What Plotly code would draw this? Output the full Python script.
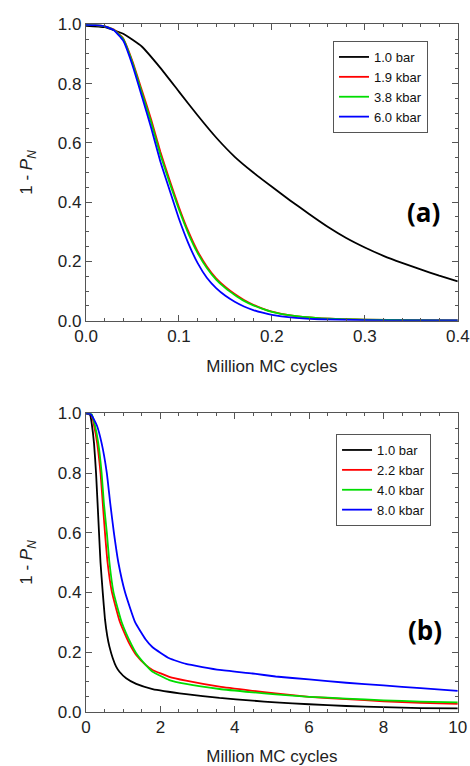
import plotly.graph_objects as go

# ---------------- Panel (a) ----------------
a_names = ["1.0 bar", "1.9 kbar", "3.8 kbar", "6.0 kbar"]
a_x_black = [0.0, 0.02, 0.04, 0.06, 0.08, 0.10, 0.12, 0.14, 0.16, 0.18, 0.20, 0.22, 0.24, 0.26, 0.28, 0.30, 0.32, 0.34, 0.36, 0.38, 0.40]
a_y_black = [0.995, 0.99, 0.968, 0.925, 0.853, 0.773, 0.693, 0.618, 0.553, 0.50, 0.452, 0.405, 0.36, 0.317, 0.279, 0.247, 0.219, 0.195, 0.173, 0.152, 0.133]
a_x = [0.0, 0.01, 0.02, 0.03, 0.04, 0.05, 0.06, 0.07, 0.08, 0.09, 0.10, 0.11, 0.12, 0.13, 0.14, 0.15,
       0.16, 0.17, 0.18, 0.19, 0.20, 0.22, 0.25, 0.30, 0.35, 0.40]
a_y_red = [0.998, 0.997, 0.993, 0.982, 0.952, 0.875, 0.778, 0.68, 0.57, 0.474, 0.383, 0.302, 0.235, 0.183, 0.143, 0.114,
           0.09, 0.07, 0.054, 0.041, 0.031, 0.018, 0.009, 0.004, 0.002, 0.001]
a_y_green = [0.998, 0.997, 0.993, 0.981, 0.95, 0.87, 0.77, 0.67, 0.56, 0.465, 0.375, 0.295, 0.229, 0.178, 0.139, 0.11,
             0.087, 0.067, 0.052, 0.04, 0.03, 0.018, 0.009, 0.004, 0.002, 0.001]
a_y_blue = [0.998, 0.997, 0.993, 0.98, 0.945, 0.862, 0.758, 0.652, 0.537, 0.44, 0.344, 0.262, 0.195, 0.145, 0.11, 0.084,
            0.064, 0.048, 0.036, 0.027, 0.02, 0.011, 0.005, 0.002, 0.001, 0.001]

# ---------------- Panel (b) ----------------
b_names = ["1.0 bar", "2.2 kbar", "4.0 kbar", "8.0 kbar"]
b_x_black = [0.0, 0.11, 0.16, 0.215, 0.27, 0.35, 0.39, 0.45, 0.51, 0.57, 0.63, 0.72, 0.81, 0.9, 1.08, 1.35, 1.79,
             2.69, 3.59, 4.48, 5.1, 6.0, 7.0, 8.0, 9.0, 10.0]
b_y_black = [1.0, 0.995, 0.96, 0.9, 0.8, 0.6, 0.5, 0.4, 0.31, 0.255, 0.218, 0.179, 0.151, 0.134, 0.112, 0.093, 0.076,
             0.059, 0.046, 0.037, 0.031, 0.025, 0.019, 0.015, 0.012, 0.011]
b_x_red = [0.0, 0.15, 0.215, 0.30, 0.39, 0.45, 0.51, 0.58, 0.69, 0.8, 0.9, 1.08, 1.18, 1.35, 1.61, 1.79, 2.24, 2.69,
           3.59, 4.48, 5.1, 6.0, 7.0, 8.0, 9.0, 10.0]
b_y_red = [1.0, 0.995, 0.96, 0.9, 0.8, 0.7, 0.6, 0.5, 0.405, 0.35, 0.305, 0.251, 0.225, 0.19, 0.156, 0.14, 0.117, 0.104,
           0.084, 0.07, 0.061, 0.05, 0.042, 0.035, 0.03, 0.026]
b_x_green = [0.0, 0.15, 0.24, 0.33, 0.42, 0.48, 0.56, 0.63, 0.74, 0.96, 1.23, 1.35, 1.61, 1.79, 2.24, 2.69, 3.59,
             4.48, 5.1, 6.0, 7.0, 8.0, 9.0, 10.0]
b_y_green = [1.0, 0.997, 0.96, 0.9, 0.8, 0.7, 0.6, 0.5, 0.4, 0.3, 0.223, 0.196, 0.156, 0.134, 0.106, 0.093, 0.076,
             0.065, 0.058, 0.05, 0.044, 0.038, 0.034, 0.031]
b_x_blue = [0.0, 0.13, 0.29, 0.42, 0.56, 0.65, 0.75, 0.87, 1.05, 1.32, 1.6, 1.79, 2.24, 2.69, 3.59, 4.48, 5.1, 6.0,
            7.0, 8.0, 9.0, 10.0]
b_y_blue = [1.0, 0.997, 0.96, 0.9, 0.8, 0.7, 0.6, 0.5, 0.4, 0.3, 0.243, 0.216, 0.179, 0.16, 0.14, 0.128, 0.118, 0.108,
            0.097, 0.088, 0.079, 0.07]

colors = ["#000000", "#ff0000", "#00dd00", "#0000ff"]
FONT = "Liberation Sans, Arial, sans-serif"

fig = go.Figure()
a_series = [(a_x_black, a_y_black), (a_x, a_y_red), (a_x, a_y_green), (a_x, a_y_blue)]
for (xs, ys), name, c in zip(a_series, a_names, colors):
    fig.add_trace(go.Scatter(x=xs, y=ys, mode="lines", name=name,
                             line=dict(color=c, width=1.8, shape="spline", smoothing=0.4),
                             xaxis="x", yaxis="y", legend="legend"))
b_series = [(b_x_black, b_y_black), (b_x_red, b_y_red), (b_x_green, b_y_green), (b_x_blue, b_y_blue)]
for (xs, ys), name, c in zip(b_series, b_names, colors):
    fig.add_trace(go.Scatter(x=xs, y=ys, mode="lines", name=name,
                             line=dict(color=c, width=1.8, shape="spline", smoothing=0.4),
                             xaxis="x2", yaxis="y2", legend="legend2"))

axis_common = dict(showline=True, linecolor="#555555", linewidth=1.3, mirror="ticks", ticks="inside", ticklen=6,
                   tickcolor="#555555", tickwidth=1.2, showgrid=False, zeroline=False, automargin=False,
                   tickfont=dict(family=FONT, size=17, color="#222222"),
                   minor=dict(ticks="inside", ticklen=3, tickcolor="#555555", tickwidth=1.2, showgrid=False))
title_font = dict(family=FONT, size=17, color="#222222")
ytitle = "1 - <i>P</i><sub><i>N</i></sub>"

fig.update_layout(
    width=470, height=766, margin=dict(l=0, r=0, t=0, b=0, autoexpand=False),
    paper_bgcolor="white", plot_bgcolor="white",
    xaxis=dict(domain=[0.183, 0.974], anchor="y", range=[0, 0.4], dtick=0.1, tickformat=".1f",
               title=dict(text="Million MC cycles", font=title_font, standoff=14), **axis_common),
    yaxis=dict(domain=[0.5813, 0.9683], anchor="x", range=[0, 1], dtick=0.2, tickformat=".1f",
               title=dict(text=ytitle, font=title_font, standoff=20), **axis_common),
    xaxis2=dict(domain=[0.183, 0.974], anchor="y2", range=[0, 10], dtick=2, tickformat="d",
                title=dict(text="Million MC cycles", font=title_font, standoff=14), **axis_common),
    yaxis2=dict(domain=[0.0709, 0.4604], anchor="x2", range=[0, 1], dtick=0.2, tickformat=".1f",
                title=dict(text=ytitle, font=title_font, standoff=20), **axis_common),
    legend=dict(x=0.7085, y=0.9465, xanchor="left", yanchor="top", bordercolor="#555555", borderwidth=1,
                bgcolor="white", font=dict(family=FONT, size=13, color="#111111"), tracegroupgap=0,
                itemwidth=30),
    legend2=dict(x=0.715, y=0.4334, xanchor="left", yanchor="top", bordercolor="#555555", borderwidth=1,
                 bgcolor="white", font=dict(family=FONT, size=13, color="#111111"), tracegroupgap=0,
                 itemwidth=30),
    annotations=[
        dict(text="<b>(a)</b>", x=0.9, y=0.7232, xref="paper", yref="paper", xanchor="center", yanchor="middle",
             showarrow=False, font=dict(family="Open Sans, sans-serif", size=26, color="#000000")),
        dict(text="<b>(b)</b>", x=0.904, y=0.1775, xref="paper", yref="paper", xanchor="center", yanchor="middle",
             showarrow=False, font=dict(family="Open Sans, sans-serif", size=26, color="#000000")),
    ],
)
fig.write_html("out.html", config={"displayModeBar": False},
               post_script="document.body.style.margin='0';document.body.style.overflow='hidden';")
